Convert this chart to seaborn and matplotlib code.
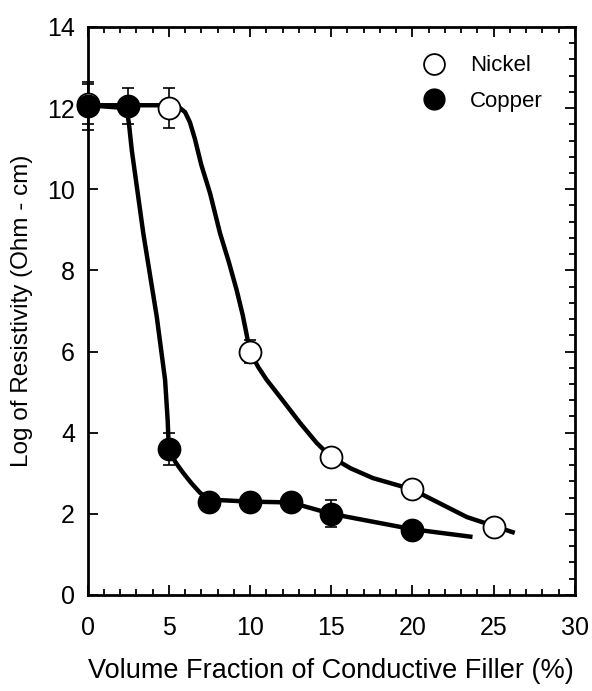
import pandas as pd
import matplotlib.pyplot as plt
import seaborn as sns
from matplotlib.lines import Line2D
from matplotlib.ticker import MultipleLocator

# measured points
nickel_x = [0, 5, 10, 15, 20, 25]
nickel_y = [12.1, 12.0, 6.0, 3.4, 2.6, 1.68]
nickel_err = [0.5, 0.5, 0.28, 0, 0, 0]

copper_x = [0, 2.5, 5, 7.5, 10, 12.5, 15, 20]
copper_y = [12.05, 12.05, 3.6, 2.3, 2.3, 2.3, 2.0, 1.6]
copper_err = [0.6, 0.45, 0.4, 0, 0, 0, 0.33, 0]

# hand-drawn trend curves
nickel_curve_x = [0, 5.0, 5.6, 6.0, 6.3, 6.6, 7.0, 7.54, 8.15, 8.7, 9.18, 9.55, 9.8, 10.0,
                  10.5, 11.03, 11.85, 13.08, 14.12, 15.0, 16.2, 17.57, 20.0, 23.35, 26.3]
nickel_curve_y = [12.07, 12.07, 12.03, 11.9, 11.65, 11.25, 10.6, 9.9, 8.92, 8.2, 7.51, 6.9,
                  6.4, 6.0, 5.62, 5.3, 4.88, 4.24, 3.74, 3.4, 3.12, 2.88, 2.6, 1.92, 1.53]
copper_curve_x = [0, 2.4, 2.55, 2.72, 3.43, 4.26, 4.77, 4.93, 5.0, 5.15, 5.45, 5.9,
                  6.4, 6.92, 7.5, 10.0, 12.5, 15.0, 20.0, 23.7]
copper_curve_y = [12.07, 12.0, 11.6, 10.96, 8.91, 6.85, 5.3, 4.3, 3.6, 3.45, 3.25, 3.0,
                  2.75, 2.52, 2.35, 2.3, 2.28, 2.0, 1.62, 1.43]

sns.set_style('ticks')
plt.rcParams['font.family'] = ['Liberation Sans', 'DejaVu Sans']
plt.rcParams.update({'text.color': 'black', 'axes.labelcolor': 'black',
                     'xtick.color': 'black', 'ytick.color': 'black',
                     'axes.edgecolor': 'black'})

fig = plt.figure(figsize=(5.92, 6.91), dpi=100)
ax = fig.add_axes([0.148, 0.139, 0.823, 0.822])

curves = pd.concat([
    pd.DataFrame({'x': nickel_curve_x, 'y': nickel_curve_y, 'curve': 'Nickel'}),
    pd.DataFrame({'x': copper_curve_x, 'y': copper_curve_y, 'curve': 'Copper'}),
])
sns.lineplot(data=curves, x='x', y='y', units='curve', estimator=None, sort=False,
             color='black', linewidth=3.2, solid_capstyle='butt',
             solid_joinstyle='round', ax=ax, zorder=2)

# error bars
for xs, ys, es in [(nickel_x, nickel_y, nickel_err), (copper_x, copper_y, copper_err)]:
    eb = ax.errorbar(xs, ys, yerr=es, fmt='none', ecolor='black',
                     elinewidth=1.2, capsize=4, capthick=1.2, zorder=3)
    for art in eb.lines[1] + eb.lines[2]:
        art.set_clip_on(False)

sns.scatterplot(x=nickel_x, y=nickel_y, s=250, color='white', edgecolor='black',
                linewidth=1.3, ax=ax, zorder=4, clip_on=False)
sns.scatterplot(x=copper_x, y=copper_y, s=250, color='black', edgecolor='black',
                linewidth=1.3, ax=ax, zorder=5, clip_on=False)

ax.set_xlim(0, 30)
ax.set_ylim(0, 14)
ax.xaxis.set_major_locator(MultipleLocator(5))
ax.xaxis.set_minor_locator(MultipleLocator(1))
ax.yaxis.set_major_locator(MultipleLocator(2))
ax.yaxis.set_minor_locator(MultipleLocator(0.4))
ax.tick_params(which='both', direction='in', top=True, right=True, width=1.3,
               labelsize=18)
ax.tick_params(which='major', length=7)
ax.tick_params(which='minor', length=4, left=False)
ax.tick_params(axis='x', pad=15)
ax.tick_params(axis='y', pad=9)
for s in ax.spines.values():
    s.set_linewidth(2)

ax.set_xlabel('Volume Fraction of Conductive Filler (%)', fontsize=19.5, labelpad=13)
ax.set_ylabel('Log of Resistivity (Ohm - cm)', fontsize=17.5, labelpad=10)

handles = [
    Line2D([], [], marker='o', linestyle='none', markersize=15,
           markerfacecolor='white', markeredgecolor='black', markeredgewidth=1.3),
    Line2D([], [], marker='o', linestyle='none', markersize=15,
           markerfacecolor='black', markeredgecolor='black'),
]
ax.legend(handles, ['Nickel', 'Copper'], loc='upper right', bbox_to_anchor=(0.975, 0.985),
          frameon=False, fontsize=16, handletextpad=0.6, labelspacing=0.65)

fig.savefig('out.png', dpi=100)
